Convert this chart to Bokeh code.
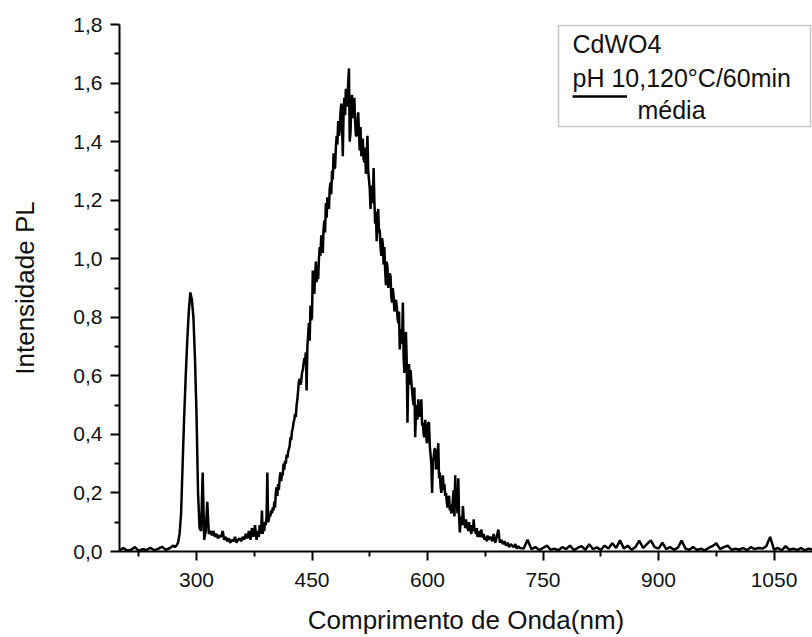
import numpy as np
from bokeh.plotting import figure
from bokeh.models import (Range1d, FixedTicker, CustomJSTickFormatter, BoxAnnotation,
                          Label, Legend, LegendItem)
from bokeh.embed import file_html
from bokeh.resources import INLINE

# PL spectrum of CdWO4 (pH 10, 120 °C / 60 min), averaged emission
# 200-270 nm, 5 nm steps
pl_uv_tail = [0.004, 0.012, 0.003, 0.006, 0.015, 0.002, 0.008, 0.005, 0.013, 0.004,
              0.009, 0.016, 0.006, 0.011, 0.020]

# 272-378 nm, 2 nm steps (excitation line and valley)
pl_excitation = [
    0.015, 0.02, 0.03, 0.06, 0.13, 0.30, 0.46, 0.60, 0.72, 0.82,
    0.885, 0.86, 0.80, 0.66, 0.47, 0.20, 0.08, 0.07, 0.27, 0.04,
    0.07, 0.17, 0.06, 0.07, 0.055, 0.07, 0.05, 0.06, 0.045, 0.055,
    0.05, 0.07, 0.04, 0.05, 0.035, 0.045, 0.03, 0.04, 0.035, 0.05,
    0.03, 0.04, 0.045, 0.035, 0.05, 0.04, 0.06, 0.045, 0.07, 0.04,
    0.08, 0.05, 0.09, 0.04,
]

# 380-680 nm, 1 nm steps (emission band)
pl_emission = [
    0.07, 0.05, 0.09, 0.06, 0.08, 0.14, 0.06, 0.08, 0.07, 0.10,
    0.09, 0.12, 0.27, 0.10, 0.11, 0.13, 0.12, 0.14, 0.13, 0.15,
    0.14, 0.17, 0.15, 0.20, 0.22, 0.19, 0.23, 0.21, 0.25, 0.27,
    0.24, 0.27, 0.26, 0.30, 0.28, 0.31, 0.30, 0.33, 0.32, 0.34,
    0.35, 0.36, 0.39, 0.38, 0.41, 0.42, 0.44, 0.45, 0.47, 0.46,
    0.50, 0.52, 0.55, 0.58, 0.59, 0.57, 0.58, 0.61, 0.62, 0.64,
    0.66, 0.65, 0.68, 0.55, 0.70, 0.74, 0.78, 0.72, 0.84, 0.79,
    0.80, 0.96, 0.90, 0.88, 0.94, 0.99, 0.92, 0.97, 0.93, 1.00,
    1.04, 1.01, 1.08, 1.05, 1.02, 1.10, 1.13, 1.09, 1.19, 1.14,
    1.21, 1.18, 1.17, 1.24, 1.26, 1.22, 1.30, 1.27, 1.36, 1.31,
    1.31, 1.38, 1.42, 1.39, 1.47, 1.42, 1.44, 1.50, 1.53, 1.46,
    1.35, 1.50, 1.55, 1.49, 1.58, 1.53, 1.52, 1.60, 1.65, 1.40,
    1.43, 1.52, 1.56, 1.48, 1.51, 1.55, 1.47, 1.42, 1.42, 1.46,
    1.50, 1.43, 1.37, 1.45, 1.35, 1.40, 1.41, 1.34, 1.33, 1.38,
    1.29, 1.33, 1.42, 1.30, 1.27, 1.24, 1.17, 1.25, 1.22, 1.19,
    1.31, 1.20, 1.12, 1.16, 1.06, 1.14, 1.17, 1.09, 1.10, 1.04,
    1.01, 1.07, 1.05, 0.98, 1.04, 0.96, 0.91, 0.99, 0.97, 0.90,
    0.93, 0.95, 0.94, 0.87, 0.85, 0.90, 0.87, 0.82, 0.83, 0.86,
    0.84, 0.80, 0.78, 0.82, 0.69, 0.76, 0.75, 0.71, 0.85, 0.66,
    0.61, 0.72, 0.75, 0.65, 0.44, 0.60, 0.64, 0.57, 0.62, 0.58,
    0.55, 0.52, 0.50, 0.56, 0.39, 0.47, 0.50, 0.45, 0.52, 0.48,
    0.46, 0.49, 0.52, 0.43, 0.44, 0.40, 0.39, 0.45, 0.42, 0.37,
    0.38, 0.44, 0.44, 0.36, 0.33, 0.30, 0.20, 0.31, 0.32, 0.35,
    0.35, 0.28, 0.29, 0.33, 0.37, 0.25, 0.27, 0.22, 0.20, 0.24,
    0.26, 0.21, 0.23, 0.19, 0.20, 0.17, 0.15, 0.18, 0.19, 0.14,
    0.16, 0.13, 0.14, 0.18, 0.21, 0.12, 0.26, 0.15, 0.17, 0.13,
    0.25, 0.12, 0.065, 0.10, 0.12, 0.09, 0.155, 0.11, 0.10, 0.08,
    0.11, 0.09, 0.08, 0.07, 0.10, 0.08, 0.07, 0.06, 0.09, 0.07,
    0.11, 0.07, 0.07, 0.06, 0.08, 0.05, 0.06, 0.07, 0.05, 0.06,
    0.075, 0.05, 0.05, 0.06, 0.04, 0.045, 0.05, 0.035, 0.055, 0.04,
    0.045,
]

# 682-720 nm, 2 nm steps (band tail)
pl_tail = [
    0.05, 0.035, 0.06, 0.03, 0.05, 0.075, 0.03, 0.04, 0.025, 0.035,
    0.02, 0.03, 0.015, 0.025, 0.02, 0.015, 0.025, 0.01, 0.018, 0.012,
]

# 725-1100 nm, 5 nm steps (near-IR baseline)
pl_ir_tail = [
    0.010, 0.040, 0.008, 0.015, 0.005, 0.012, 0.020, 0.006, 0.010, 0.004,
    0.015, 0.008, 0.020, 0.005, 0.012, 0.018, 0.006, 0.025, 0.008, 0.014,
    0.005, 0.020, 0.010, 0.028, 0.012, 0.038, 0.010, 0.020, 0.006, 0.015,
    0.037, 0.012, 0.025, 0.038, 0.015, 0.010, 0.030, 0.008, 0.015, 0.006,
    0.012, 0.037, 0.010, 0.006, 0.015, 0.005, 0.010, 0.004, 0.012, 0.018,
    0.028, 0.008, 0.015, 0.020, 0.005, 0.010, 0.006, 0.012, 0.004, 0.015,
    0.008, 0.012, 0.010, 0.018, 0.050, 0.006, 0.012, 0.004, 0.018, 0.006,
    0.010, 0.005, 0.012, 0.004, 0.010, 0.006,
]

wavelength = np.concatenate([
    200 + 5 * np.arange(len(pl_uv_tail)),
    272 + 2 * np.arange(len(pl_excitation)),
    380 + 1 * np.arange(len(pl_emission)),
    682 + 2 * np.arange(len(pl_tail)),
    725 + 5 * np.arange(len(pl_ir_tail)),
])
intensity = np.concatenate([pl_uv_tail, pl_excitation, pl_emission, pl_tail, pl_ir_tail])

x_major = [300, 450, 600, 750, 900, 1050]
x_minor = [225, 375, 525, 675, 825, 975]
y_major = [0.0, 0.2, 0.4, 0.6, 0.8, 1.0, 1.2, 1.4, 1.6, 1.8]
y_minor = [0.1, 0.3, 0.5, 0.7, 0.9, 1.1, 1.3, 1.5, 1.7]

FONT = "Liberation Sans"
INK = "#111111"

p = figure(width=812, height=637, output_backend="svg", toolbar_location=None,
           x_range=Range1d(200, 1100), y_range=Range1d(0, 1.8),
           min_border_left=119, min_border_right=0, min_border_top=24,
           min_border_bottom=85, background_fill_color="white",
           border_fill_color="white")
p.outline_line_color = None
p.grid.visible = False

line = p.line(wavelength, intensity, line_color="black", line_width=2.5)

for ax in (p.xaxis[0], p.yaxis[0]):
    ax.axis_line_width = 2
    ax.axis_line_color = "black"
    ax.major_tick_line_width = 2
    ax.minor_tick_line_width = 2
    ax.major_tick_in = 0
    ax.major_tick_out = 9
    ax.minor_tick_in = 0
    ax.minor_tick_out = 5
    ax.major_label_text_font = FONT
    ax.major_label_text_font_size = "21px"
    ax.major_label_text_color = INK
    ax.axis_label_text_font = FONT
    ax.axis_label_text_font_size = "26px"
    ax.axis_label_text_font_style = "normal"
    ax.axis_label_text_color = INK

p.xaxis.ticker = FixedTicker(ticks=x_major, minor_ticks=x_minor)
p.yaxis.ticker = FixedTicker(ticks=y_major, minor_ticks=y_minor)
p.yaxis.formatter = CustomJSTickFormatter(code="return tick.toFixed(1).replace('.', ',');")
p.xaxis.major_label_standoff = 12
p.yaxis.major_label_standoff = 8
p.xaxis.axis_label = "Comprimento de Onda(nm)"
p.yaxis.axis_label = "Intensidade PL"
p.xaxis.axis_label_standoff = 15
p.yaxis.axis_label_standoff = 30

# legend frame, header lines and series sample
box = BoxAnnotation(left=770.1, right=1097.4, top=1.797, bottom=1.452,
                    fill_alpha=0, line_color="#444444", line_width=1.5)
p.add_layout(box)
for txt, xv, yv in (("CdWO4", 788.3, 1.732),
                    ("pH 10,120°C/60min", 788.3, 1.616),
                    ("média", 872.7, 1.507)):
    p.add_layout(Label(x=xv, y=yv, text=txt, text_font=FONT,
                       text_font_size="25px", text_color=INK,
                       text_baseline="alphabetic"))

legend = Legend(items=[LegendItem(label=" ", renderers=[line])],
                location=(453, 450), padding=0, margin=0, spacing=0,
                glyph_width=55, glyph_height=10, label_standoff=0,
                label_text_font_size="1px",
                border_line_alpha=0, background_fill_alpha=0)
p.add_layout(legend)

open("out.html", "w").write(file_html(p, INLINE))
